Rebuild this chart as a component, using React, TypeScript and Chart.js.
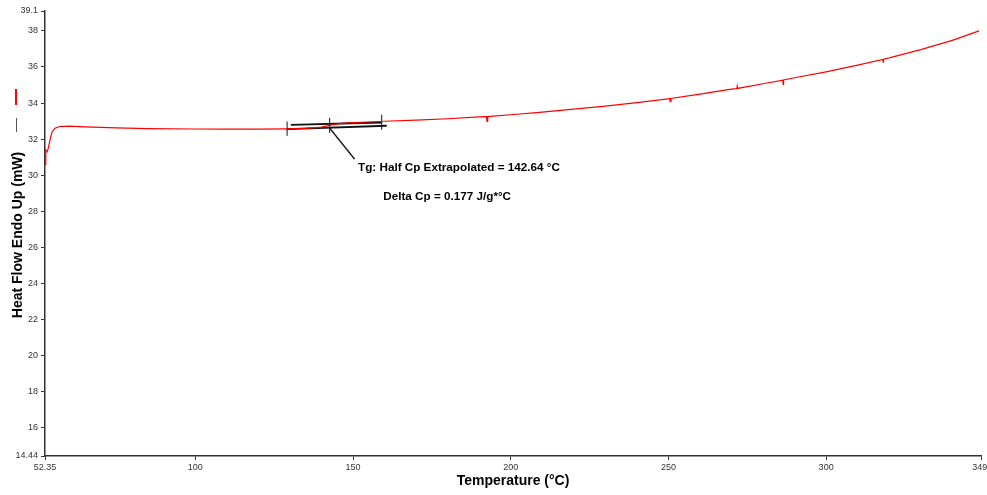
import { useEffect, useRef } from 'react';
import { Chart, registerables } from 'chart.js';

Chart.register(...registerables);

// ---- Data ----
const temperatures = [
  52.35, 52.6, 53.0, 53.4, 54.0, 54.6, 55.5, 57.0, 60.0, 65.0, 75.0, 85.0, 100, 110, 120, 129,
  135, 140, 143, 146, 150, 155, 160, 170, 180, 190, 192.3, 192.5, 192.7, 200, 210, 220, 230,
  240, 250.4, 250.6, 250.8, 260, 270, 271.7, 271.8, 271.9, 280, 286.3, 286.4, 286.5, 290, 300,
  310, 318, 318.1, 318.2, 320, 330, 340, 348.5,
];
const heatFlow = [
  30.6, 31.4, 31.3, 31.5, 32.0, 32.4, 32.6, 32.7, 32.72, 32.68, 32.62, 32.58, 32.56, 32.55, 32.55, 32.57,
  32.6, 32.67, 32.78, 32.87, 32.92, 32.95, 32.99, 33.05, 33.13, 33.23, 33.25, 32.98, 33.25, 33.35, 33.5, 33.66, 33.83,
  34.02, 34.24, 34.08, 34.25, 34.49, 34.77, 34.8, 34.92, 34.81, 35.07, 35.27, 35.02, 35.28, 35.4, 35.73,
  36.1, 36.42, 36.26, 36.43, 36.5, 36.96, 37.47, 38.0,
];

const xTickValues = [52.35, 100, 150, 200, 250, 300, 349.1];
const xTickLabels = ['52.35', '100', '150', '200', '250', '300', '349.'];
const yTickValues = [14.44, 16, 18, 20, 22, 24, 26, 28, 30, 32, 34, 36, 38, 39.1];
const yTickLabels = ['14.44', '16', '18', '20', '22', '24', '26', '28', '30', '32', '34', '36', '38', '39.1'];

// Tg analysis construction
const tgMarkX = [129.1, 142.6, 159.1];
const tgMarkLow = [32.18, 32.35, 32.52];
const tgMarkHigh = [32.98, 33.18, 33.35];
const upperBaseX = [130.3, 159.1];
const upperBaseY = [32.79, 32.92];
const lowerBaseX = [129.0, 160.7];
const lowerBaseY = [32.55, 32.74];
const pointerX = [142.6, 150.5];
const pointerY = [32.61, 30.89];

const annotationTexts = ['Tg: Half Cp Extrapolated = 142.64 °C', 'Delta Cp = 0.177 J/g*°C'];
const annotationX = [151.6, 159.6];
const annotationY = [30.41, 28.8];

const xTitle = 'Temperature (°C)';
const yTitle = 'Heat Flow Endo Up (mW)';

const pts = (xs: number[], ys: number[]) => xs.map((x, i) => ({ x, y: ys[i] }));

export default function App() {
  const ref = useRef<HTMLCanvasElement | null>(null);

  useEffect(() => {
    const canvas = ref.current;
    if (!canvas) return;

    const black = '#111111';
    const segDs = (data: { x: number; y: number }[], width: number) => ({
      data,
      borderColor: black,
      borderWidth: width,
      pointRadius: 0,
      showLine: true,
      tension: 0,
    });

    const datasets: any[] = [
      {
        data: pts(temperatures, heatFlow),
        borderColor: '#ff0000',
        borderWidth: 1.2,
        pointRadius: 0,
        showLine: true,
        tension: 0,
      },
      segDs(pts(upperBaseX, upperBaseY), 1.8),
      segDs(pts(lowerBaseX, lowerBaseY), 1.8),
      segDs(pts(pointerX, pointerY), 1.5),
      ...tgMarkX.map((x, i) => segDs([{ x, y: tgMarkLow[i] }, { x, y: tgMarkHigh[i] }], 1)),
    ];

    const textPlugin = {
      id: 'texts',
      afterDraw(chart: any) {
        const ctx = chart.ctx as CanvasRenderingContext2D;
        const xs = chart.scales.x;
        const ys = chart.scales.y;
        ctx.save();
        ctx.fillStyle = '#000';
        ctx.textBaseline = 'middle';
        ctx.textAlign = 'left';
        ctx.font = 'bold 11.7px Arial, "Liberation Sans", sans-serif';
        annotationTexts.forEach((t, i) => {
          ctx.fillText(t, xs.getPixelForValue(annotationX[i]), ys.getPixelForValue(annotationY[i]));
        });
        // axis titles
        ctx.font = 'bold 14px Arial, "Liberation Sans", sans-serif';
        ctx.textAlign = 'center';
        ctx.fillText(xTitle, 513, 481);
        ctx.translate(18, 235);
        ctx.rotate(-Math.PI / 2);
        ctx.fillText(yTitle, 0, 0);
        ctx.restore();
        // legend swatches next to the y title
        ctx.save();
        ctx.strokeStyle = '#555';
        ctx.lineWidth = 1;
        ctx.beginPath();
        ctx.moveTo(16.5, 118);
        ctx.lineTo(16.5, 132);
        ctx.stroke();
        ctx.strokeStyle = '#ff0000';
        ctx.lineWidth = 2;
        ctx.beginPath();
        ctx.moveTo(16, 89);
        ctx.lineTo(16, 105);
        ctx.stroke();
        ctx.restore();
      },
    };

    const chart = new Chart(canvas, {
      type: 'scatter',
      data: { datasets },
      plugins: [textPlugin],
      options: {
        animation: false,
        responsive: false,
        maintainAspectRatio: false,
        layout: { padding: { top: 11, right: 6, left: 0, bottom: 0 } },
        plugins: { legend: { display: false }, tooltip: { enabled: false } },
        scales: {
          x: {
            type: 'linear',
            min: 52.35,
            max: 349.1,
            afterBuildTicks: (scale: any) => {
              scale.ticks = xTickValues.map((v) => ({ value: v }));
            },
            afterFit: (scale: any) => {
              scale.height = 39;
              scale.paddingLeft = 0;
              scale.paddingRight = 0;
            },
            ticks: {
              autoSkip: false,
              maxRotation: 0,
              minRotation: 0,
              padding: 2,
              color: '#333',
              font: { family: 'Arial, "Liberation Sans", sans-serif', size: 9 },
              callback: (_v: any, i: number) => xTickLabels[i],
            },
            grid: { drawOnChartArea: false, tickLength: 4, color: '#333', lineWidth: 1 },
            border: { display: true, color: '#333', width: 1.5 },
          },
          y: {
            type: 'linear',
            min: 14.44,
            max: 39.1,
            afterBuildTicks: (scale: any) => {
              scale.ticks = yTickValues.map((v) => ({ value: v }));
            },
            afterFit: (scale: any) => {
              scale.width = 45;
              scale.paddingTop = 0;
              scale.paddingBottom = 0;
            },
            ticks: {
              autoSkip: false,
              padding: 3,
              color: '#333',
              font: { family: 'Arial, "Liberation Sans", sans-serif', size: 9 },
              callback: (_v: any, i: number) => yTickLabels[i],
            },
            grid: { drawOnChartArea: false, tickLength: 4, color: '#333', lineWidth: 1 },
            border: { display: true, color: '#333', width: 1.5 },
          },
        },
      } as any,
    });

    return () => chart.destroy();
  }, []);

  return (
    <div style={{ position: 'fixed', left: 0, top: 0, width: 987, height: 495, background: '#fff' }}>
      <canvas ref={ref} width={987} height={495} style={{ width: 987, height: 495, display: 'block' }} />
    </div>
  );
}
